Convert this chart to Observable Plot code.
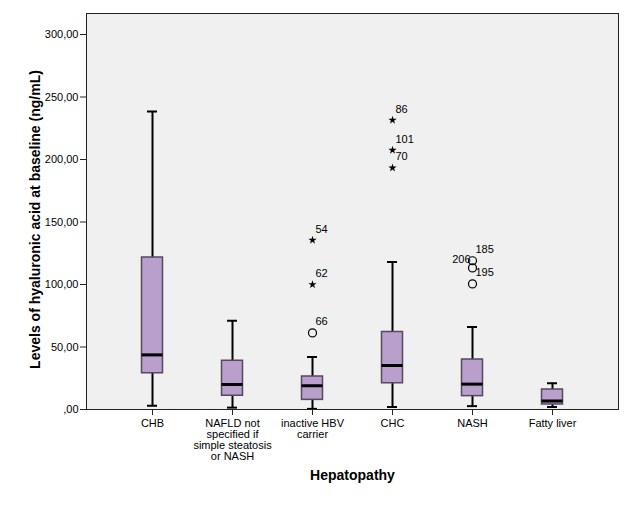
<!DOCTYPE html>
<html>
<head>
<meta charset="utf-8">
<script src="https://cdn.jsdelivr.net/npm/d3@7"></script>
<script src="https://cdn.jsdelivr.net/npm/@observablehq/plot@0.6"></script>
<style>
  html, body { margin: 0; padding: 0; background: #ffffff; }
  #chart { width: 633px; height: 508px; }
</style>
</head>
<body>
<div id="chart"></div>
<script>
// ---- Data ----
const categories = ["CHB", "NAFLD not specified if simple steatosis or NASH", "inactive HBV carrier", "CHC", "NASH", "Fatty liver"];
const tickLabels = ["CHB", "NAFLD not\nspecified if\nsimple steatosis\nor NASH", "inactive HBV\ncarrier", "CHC", "NASH", "Fatty liver"];
const whiskerLow  = [3, 1.5, 0.5, 2, 2.7, 2];
const q1          = [29, 11, 7.7, 21, 10.7, 4];
const median      = [43.7, 20, 19, 35.2, 20.3, 6.8];
const q3          = [121.6, 39, 26.4, 62, 40, 16];
const whiskerHigh = [238.4, 71, 42, 118, 66, 21];

const outlierCategory = ["inactive HBV carrier", "inactive HBV carrier", "inactive HBV carrier", "CHC", "CHC", "CHC", "NASH", "NASH", "NASH"];
const outlierValue    = [135.5, 100, 61.3, 231.5, 207.5, 193.3, 119, 113.3, 100.5];
const outlierCase     = ["54", "62", "66", "86", "101", "70", "185", "206", "195"];
const outlierExtreme  = [true, true, false, true, true, true, false, false, false];

const yTicks = [0, 50, 100, 150, 200, 250, 300];
const xTitle = "Hepatopathy";
const yTitle = "Levels of hyaluronic acid at baseline (ng/mL)";

// ---- Build tables ----
const stats = categories.map((c, i) => ({
  cat: c, lo: whiskerLow[i], q1: q1[i], med: median[i], q3: q3[i], hi: whiskerHigh[i]
}));
const outliers = outlierValue.map((v, i) => ({
  cat: outlierCategory[i], value: v, label: outlierCase[i], extreme: outlierExtreme[i]
}));
const leftLabels = new Set(["206"]);
const labelMap = new Map(categories.map((c, i) => [c, tickLabels[i]]));

const font = "'Liberation Sans', Arial, sans-serif";

const chart = Plot.plot({
  width: 633,
  height: 508,
  marginLeft: 86,
  marginRight: 15,
  marginTop: 13,
  marginBottom: 99,
  style: { fontFamily: font, fontSize: "11px", background: "#ffffff", color: "#000" },
  x: { type: "band", domain: categories, paddingInner: 0, paddingOuter: 0.325, axis: null },
  y: { domain: [0, 316.8], axis: null },
  marks: [
    Plot.frame({ fill: "#f0f0f0", stroke: "none" }),
    // whiskers
    Plot.ruleX(stats, { x: "cat", y1: "lo", y2: "q1", stroke: "#000", strokeWidth: 2 }),
    Plot.ruleX(stats, { x: "cat", y1: "q3", y2: "hi", stroke: "#000", strokeWidth: 2 }),
    Plot.tickY(stats, { x: "cat", y: "lo", stroke: "#000", strokeWidth: 2, insetLeft: 35, insetRight: 35 }),
    Plot.tickY(stats, { x: "cat", y: "hi", stroke: "#000", strokeWidth: 2, insetLeft: 35, insetRight: 35 }),
    // boxes
    Plot.barY(stats, { x: "cat", y1: "q1", y2: "q3", fill: "#b89fcc", stroke: "#55485f", strokeWidth: 1.5, insetLeft: 29.5, insetRight: 29.5 }),
    Plot.tickY(stats, { x: "cat", y: "med", stroke: "#000", strokeWidth: 3, insetLeft: 29.5, insetRight: 29.5 }),
    // outliers
    Plot.dot(outliers.filter(d => !d.extreme), { x: "cat", y: "value", r: 4, stroke: "#000", strokeWidth: 1.2, fill: "none" }),
    Plot.dot(outliers.filter(d => d.extreme), { x: "cat", y: "value", symbol: "star", r: 2.6, fill: "#000", stroke: "none" }),
    Plot.text(outliers.filter(d => !leftLabels.has(d.label)), { x: "cat", y: "value", text: "label", dx: 3, dy: -11, textAnchor: "start", fontSize: 11, fill: "#000" }),
    Plot.text(outliers.filter(d => leftLabels.has(d.label)), { x: "cat", y: "value", text: "label", dx: -2, dy: -8, textAnchor: "end", fontSize: 11, fill: "#000" }),
    // frame border
    Plot.frame({ stroke: "#222", strokeWidth: 1, fill: "none" }),
    // axes
    Plot.axisY({ ticks: yTicks, tickSize: 6, tickPadding: 2, tickFormat: d => (d === 0 ? "" : d) + ",00", label: null, fontSize: 11, stroke: "#222" }),
    Plot.axisX({ tickSize: 6, tickPadding: 4, tickFormat: d => labelMap.get(d), label: null, fontSize: 11, lineHeight: 1, stroke: "#222" }),
    // titles
    Plot.text([xTitle], { frameAnchor: "bottom", dy: 70, text: d => d, fontWeight: "bold", fontSize: 14, fill: "#000", textAnchor: "middle" }),
    Plot.text([yTitle], { frameAnchor: "left", dx: -51, dy: 8, rotate: -90, text: d => d, fontWeight: "bold", fontSize: 14, fill: "#000", textAnchor: "middle" })
  ]
});
document.getElementById("chart").appendChild(chart);
</script>
</body>
</html>
